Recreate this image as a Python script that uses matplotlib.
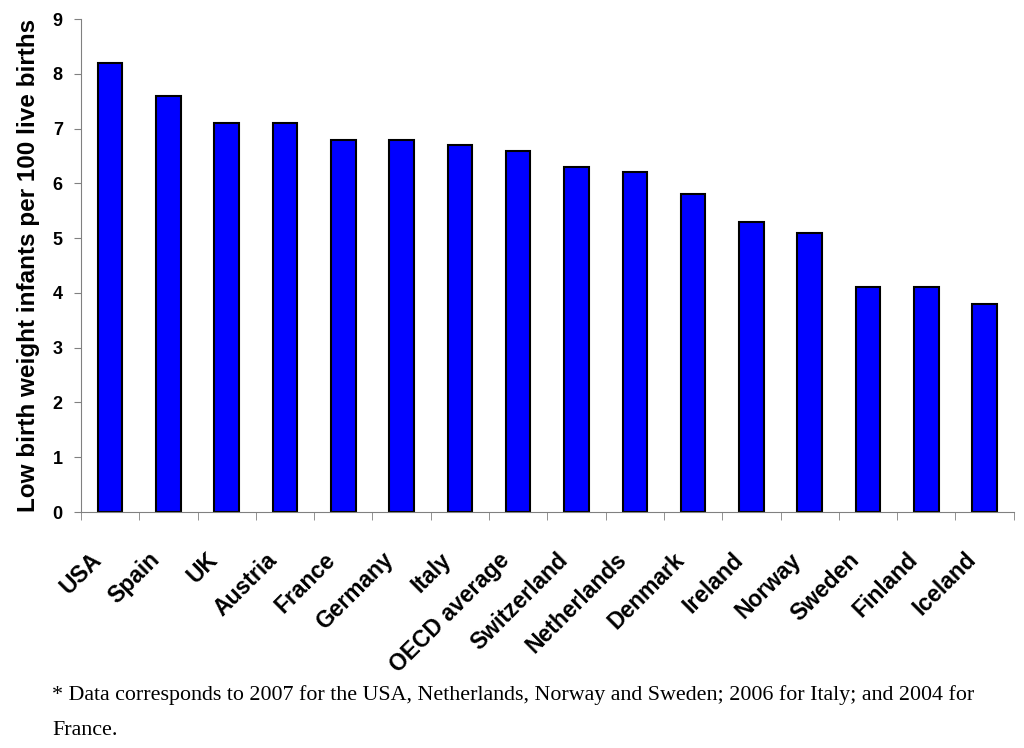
import matplotlib
matplotlib.use("Agg")
import matplotlib.pyplot as plt
from matplotlib.transforms import ScaledTranslation
import numpy as np

countries = ["USA", "Spain", "UK", "Austria", "France", "Germany", "Italy",
             "OECD average", "Switzerland", "Netherlands", "Denmark", "Ireland",
             "Norway", "Sweden", "Finland", "Iceland"]
low_birth_weight = [8.2, 7.6, 7.1, 7.1, 6.8, 6.8, 6.7, 6.6, 6.3, 6.2, 5.8, 5.3,
                    5.1, 4.1, 4.1, 3.8]
y_ticks = list(range(0, 10))

note_line1 = ("* Data corresponds to 2007 for the USA, Netherlands, Norway and Sweden; "
              "2006 for Italy; and 2004 for")
note_line2 = "France."

fig = plt.figure(figsize=(10.24, 7.48), dpi=100)
ax = fig.add_axes([0.079, 0.3155, 0.911, 0.659])

x = np.arange(len(countries))
ax.bar(x, low_birth_weight, width=0.42, color="#0000ff", edgecolor="black",
       linewidth=1.5)

ax.set_xlim(-0.5, len(countries) - 0.5)
ax.set_ylim(0, 9)
ax.set_yticks(y_ticks)
ax.set_yticklabels([str(t) for t in y_ticks], fontfamily="Liberation Sans",
                   fontweight="bold", fontsize=13)

ax.set_xticks(x)
ax.set_xticklabels(countries, rotation=45, ha="right", rotation_mode="anchor",
                   fontfamily="Liberation Sans", fontweight="bold", fontsize=16.5)
ax.tick_params(axis="x", which="major", length=0, pad=26)
# labels sit a little left of the bar centres
shift = ScaledTranslation(-20 / 100, 0, fig.dpi_scale_trans)
for lbl in ax.get_xticklabels():
    lbl.set_transform(lbl.get_transform() + shift)
ax.set_xticks(np.arange(-0.5, len(countries), 1.0), minor=True)
ax.tick_params(axis="x", which="minor", length=6, color="#808080", direction="out")
ax.tick_params(axis="y", length=5, color="#808080", pad=8)

for side in ("top", "right"):
    ax.spines[side].set_visible(False)
for side in ("left", "bottom"):
    ax.spines[side].set_color("#808080")

ax.set_ylabel("Low birth weight infants per 100 live births",
              fontfamily="Liberation Sans", fontweight="bold", fontsize=17.5,
              labelpad=9)

fig.text(0.051, 1 - 700 / 748, note_line1, fontfamily="Liberation Serif",
         fontsize=15.8, va="baseline", ha="left")
fig.text(0.051, 1 - 735 / 748, note_line2, fontfamily="Liberation Serif",
         fontsize=15.8, va="baseline", ha="left")

fig.savefig("out.png", dpi=100)
